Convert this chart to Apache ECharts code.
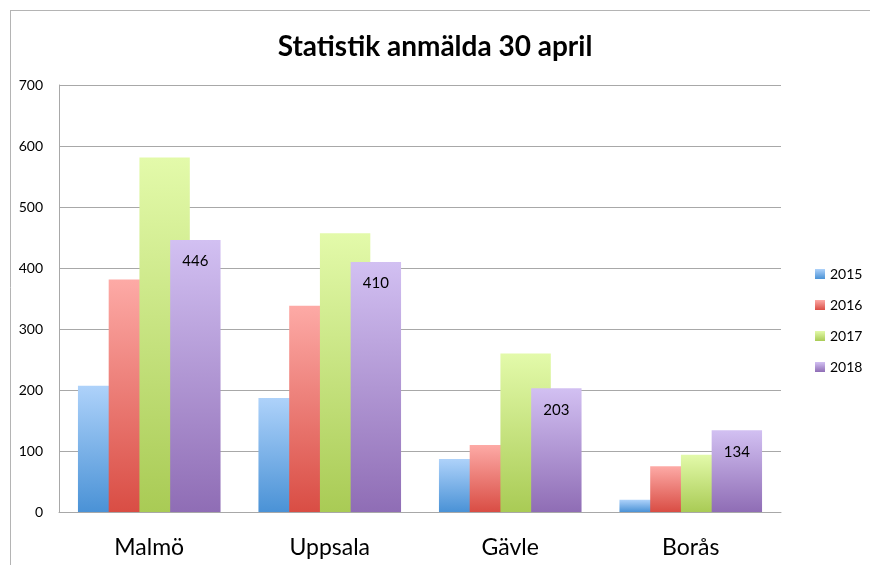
<!DOCTYPE html>
<html><head><meta charset="utf-8">
<script src="https://cdn.jsdelivr.net/npm/echarts@6/dist/echarts.min.js"></script>
<style>html,body{margin:0;padding:0;background:#fff}#c{width:870px;height:565px}</style>
</head><body><div id="c"></div>
<script>
const categories = ['Malmö', 'Uppsala', 'Gävle', 'Borås'];
const years = ['2015', '2016', '2017', '2018'];
const v2015 = [207, 187, 87, 20];
const v2016 = [381, 338, 110, 75];
const v2017 = [581, 457, 260, 94];
const v2018 = [446, 410, 203, 134];
const yTicks = [0, 100, 200, 300, 400, 500, 600, 700];

const values = [v2015, v2016, v2017, v2018];
const gradients = [
  ['#aed2fa', '#4a92d6'],
  ['#fdaaa6', '#d94d44'],
  ['#e3faaa', '#a9cb55'],
  ['#d2c0f2', '#8f6db5']
];
const font = 'Lato, "Open Sans", sans-serif';
const chart = echarts.init(document.getElementById('c'));
chart.setOption({
  animation: false,
  backgroundColor: '#fff',
  title: {
    text: 'Statistik anmälda 30 april', left: 'center', top: 28,
    textStyle: {fontFamily: font, fontWeight: 'bold', fontSize: 28, color: '#000'}
  },
  graphic: [
    {type: 'line', shape: {x1: 10, y1: 10.5, x2: 870, y2: 10.5}, style: {stroke: '#b4b4b4', lineWidth: 1}},
    {type: 'line', shape: {x1: 10.5, y1: 10, x2: 10.5, y2: 565}, style: {stroke: '#b4b4b4', lineWidth: 1}}
  ],
  legend: {
    orient: 'vertical', left: 810, top: 262, itemWidth: 10, itemHeight: 10, itemGap: 17,
    icon: 'rect',
    textStyle: {fontFamily: font, fontSize: 14, color: '#000'},
    data: years
  },
  grid: {left: 59, right: 89, top: 85, bottom: 53, containLabel: false},
  xAxis: {
    type: 'category', data: categories,
    axisLine: {lineStyle: {color: '#a8a8a8'}},
    axisTick: {show: false},
    axisLabel: {fontFamily: font, fontSize: 23, color: '#000', margin: 24}
  },
  yAxis: {
    type: 'value', min: yTicks[0], max: yTicks[yTicks.length - 1], interval: 100,
    axisLine: {show: true, lineStyle: {color: '#a8a8a8'}},
    axisTick: {show: false},
    axisLabel: {fontFamily: font, fontSize: 14, color: '#000', margin: 16},
    splitLine: {lineStyle: {color: '#a8a8a8'}}
  },
  series: years.map((y, i) => ({
    name: y, type: 'bar', data: values[i],
    barGap: '-39%', barCategoryGap: '21%',
    itemStyle: {
      color: new echarts.graphic.LinearGradient(0, 0, 0, 1, [
        {offset: 0, color: gradients[i][0]}, {offset: 1, color: gradients[i][1]}
      ])
    },
    label: i === 3 ? {show: true, position: 'insideTop', distance: 14, fontFamily: font, fontSize: 15, color: '#000'} : {show: false}
  }))
});
</script></body></html>
